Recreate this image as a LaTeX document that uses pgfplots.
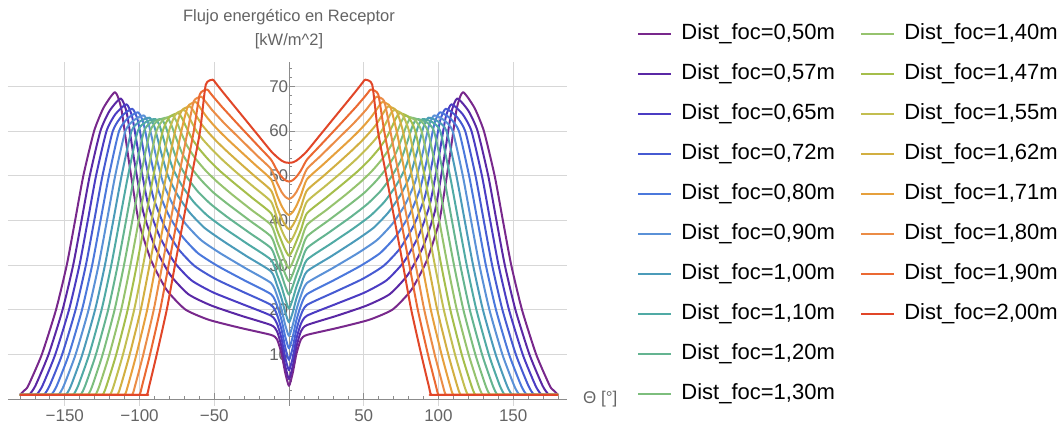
\documentclass[border=0pt]{standalone}
\usepackage{fontspec}
\setmainfont{Liberation Sans}
\usepackage{pgfplots}
\pgfplotsset{compat=1.18}
\definecolor{axisgray}{RGB}{140,140,140}
\definecolor{gridgray}{RGB}{215,215,215}
\definecolor{labelgray}{RGB}{100,100,100}
\definecolor{c0}{RGB}{120,40,140}
\definecolor{c1}{RGB}{90,40,165}
\definecolor{c2}{RGB}{75,60,195}
\definecolor{c3}{RGB}{70,90,210}
\definecolor{c4}{RGB}{75,120,220}
\definecolor{c5}{RGB}{90,145,215}
\definecolor{c6}{RGB}{75,155,185}
\definecolor{c7}{RGB}{80,170,165}
\definecolor{c8}{RGB}{100,180,145}
\definecolor{c9}{RGB}{125,190,125}
\definecolor{c10}{RGB}{150,195,110}
\definecolor{c11}{RGB}{165,190,75}
\definecolor{c12}{RGB}{195,190,80}
\definecolor{c13}{RGB}{210,175,65}
\definecolor{c14}{RGB}{230,160,60}
\definecolor{c15}{RGB}{235,140,70}
\definecolor{c16}{RGB}{235,105,50}
\definecolor{c17}{RGB}{225,70,40}
\pgfplotsset{curve/.style={line width=2pt, line join=round, smooth, tension=0.35, forget plot}}
\newcommand\legline[2]{\addlegendimage{legend image code/.code={\fill[#1] (0pt,-0.7pt) rectangle (32pt,0.7pt);}}\addlegendentry{#2}}
\begin{document}
\begin{tikzpicture}
\useasboundingbox (-8pt,-21pt) rectangle (1055pt,406pt);
\begin{axis}[
  scale only axis, width=559pt, height=344.2pt,
  xmin=-188, xmax=186, ymin=-1.5, ymax=75.5,
  axis lines=middle,
  axis line style={-, draw=axisgray, line width=0.8pt},
  xtick={-150,-100,-50,50,100,150},
  xticklabels={−150,−100,−50,50,100,150},
  ytick={10,20,30,40,50,60,70},
  yticklabels={10,20,30,40,50,60,70},
  minor xtick={-180,-170,...,180},
  minor ytick={2,4,...,74},
  tick align=inside,
  major tick length=6pt, minor tick length=3.5pt,
  tick style={draw=axisgray, line width=0.8pt},
  grid=major,
  major grid style={draw=gridgray, line width=0.8pt},
  tick label style={font=\fontsize{17}{20}\selectfont, text=labelgray},
  xticklabel style={yshift=-7pt},
  yticklabel style={xshift=2.7pt},
  xlabel={Θ [°]},
  every axis x label/.style={at={(axis description cs:1.0286,0.0195)}, anchor=west, inner sep=0pt, font=\fontsize{17}{20}\selectfont, text=labelgray},
  ylabel={Flujo energético en Receptor\\{[kW/m\textasciicircum 2]}},
  every axis y label/.style={at={(axis cs:0,75.5)}, anchor=south, rotate=0, align=center, yshift=12.6pt, inner sep=0pt, font=\fontsize{16.5}{24}\selectfont, text=labelgray},
  clip=false,
  legend columns=2,
  legend cell align=left,
  legend style={
    at={(axis description cs:1.1270,1.1119)}, anchor=north west,
    draw=none, fill=none, inner sep=0pt, outer sep=0pt,
    font=\fontsize{22}{26}\selectfont,
    row sep=19pt, column sep=11pt,
    nodes={inner sep=0pt, text height=16pt, text depth=5pt},
    /tikz/every even column/.append style={column sep=26pt},
  },
]
\addplot[curve,c0] coordinates {(-180,1.0)(-177,2.0)(-174.5,3)(-165.4,10)(-155.9,20)(-148.7,30)(-143.1,40)(-137.6,50)(-130.4,60)(-124.1,65.2)(-116.4,68.7)(-112.2,65.0)(-107.0,53.0)(-100.7,40.1)(-92.4,31.2)(-81.9,24.5)(-69.4,20.1)(-53.8,17.8)(-32.9,16.0)(-12,14.4)(-8,13.4)(-5,10.2)(-2.5,5.9)(0,3.0)(2.5,5.9)(5,10.2)(8,13.4)(12,14.4)(32.9,16.0)(53.8,17.8)(69.4,20.1)(81.9,24.5)(92.4,31.2)(100.7,40.1)(107.0,53.0)(112.2,65.0)(116.4,68.7)(124.1,65.2)(130.4,60)(137.6,50)(143.1,40)(148.7,30)(155.9,20)(165.4,10)(174.5,3)(177,2.0)(180,1.0)};
\addplot[curve,c1] coordinates {(-180,1.0)(-177.7,1.0)(-173.7,1.1)(-169.7,3)(-160.9,10)(-151.5,20)(-144.4,30)(-138.8,40)(-133.3,50)(-126.2,60)(-120.1,64.5)(-112.55,67.3)(-108.5,64.0)(-103.5,53.4)(-97.5,41.9)(-89.4,33.9)(-79.4,27.8)(-67.3,23.5)(-52.2,21.0)(-32.1,18.7)(-12,16.6)(-8,15.2)(-5,11.8)(-2.5,7.4)(0,4.5)(2.5,7.4)(5,11.8)(8,15.2)(12,16.6)(32.1,18.7)(52.2,21.0)(67.3,23.5)(79.4,27.8)(89.4,33.9)(97.5,41.9)(103.5,53.4)(108.5,64.0)(112.55,67.3)(120.1,64.5)(126.2,60)(133.3,50)(138.8,40)(144.4,30)(151.5,20)(160.9,10)(169.7,3)(173.7,1.1)(177.7,1.0)(180,1.0)};
\addplot[curve,c2] coordinates {(-180,1.0)(-172.8,1.0)(-168.8,1.1)(-165.0,3)(-156.4,10)(-147.2,20)(-140.2,30)(-134.6,40)(-129.1,50)(-122.1,60)(-116.1,63.8)(-108.7,66.0)(-104.8,63.0)(-100.0,53.7)(-94.2,43.5)(-86.5,36.4)(-76.8,30.7)(-65.2,26.6)(-50.7,23.9)(-31.3,21.3)(-12,18.7)(-8,16.9)(-5,13.6)(-2.5,9.3)(0,6.5)(2.5,9.3)(5,13.6)(8,16.9)(12,18.7)(31.3,21.3)(50.7,23.9)(65.2,26.6)(76.8,30.7)(86.5,36.4)(94.2,43.5)(100.0,53.7)(104.8,63.0)(108.7,66.0)(116.1,63.8)(122.1,60)(129.1,50)(134.6,40)(140.2,30)(147.2,20)(156.4,10)(165.0,3)(168.8,1.1)(172.8,1.0)(180,1.0)};
\addplot[curve,c3] coordinates {(-180,1.0)(-167.8,1.0)(-163.8,1.1)(-160.2,3)(-151.8,10)(-142.8,20)(-135.9,30)(-130.3,40)(-124.8,50)(-117.9,60)(-112.0,63.3)(-104.85,65.0)(-101.1,62.3)(-96.5,54.1)(-90.9,45.3)(-83.5,38.9)(-74.2,33.7)(-63.1,29.8)(-49.1,26.9)(-30.6,24.0)(-12,21.1)(-8,18.9)(-5,15.6)(-2.5,11.6)(0,8.8)(2.5,11.6)(5,15.6)(8,18.9)(12,21.1)(30.6,24.0)(49.1,26.9)(63.1,29.8)(74.2,33.7)(83.5,38.9)(90.9,45.3)(96.5,54.1)(101.1,62.3)(104.85,65.0)(112.0,63.3)(117.9,60)(124.8,50)(130.3,40)(135.9,30)(142.8,20)(151.8,10)(160.2,3)(163.8,1.1)(167.8,1.0)(180,1.0)};
\addplot[curve,c4] coordinates {(-180,1.0)(-162.9,1.0)(-158.9,1.1)(-155.4,3)(-147.3,10)(-138.5,20)(-131.7,30)(-126.1,40)(-120.5,50)(-113.7,60)(-108.0,62.8)(-101.0,64.2)(-97.4,61.8)(-93.0,54.7)(-87.65,47.0)(-80.5,41.2)(-71.6,36.5)(-60.95,32.7)(-47.6,29.8)(-29.8,26.6)(-12,23.5)(-8,21.0)(-5,17.75)(-2.5,14.0)(0,11.4)(2.5,14.0)(5,17.75)(8,21.0)(12,23.5)(29.8,26.6)(47.6,29.8)(60.95,32.7)(71.6,36.5)(80.5,41.2)(87.65,47.0)(93.0,54.7)(97.4,61.8)(101.0,64.2)(108.0,62.8)(113.7,60)(120.5,50)(126.1,40)(131.7,30)(138.5,20)(147.3,10)(155.4,3)(158.9,1.1)(162.9,1.0)(180,1.0)};
\addplot[curve,c5] coordinates {(-180,1.0)(-158.0,1.0)(-154.0,1.1)(-150.7,3)(-142.8,10)(-134.1,20)(-127.4,30)(-121.8,40)(-116.3,50)(-109.5,60)(-103.9,62.4)(-97.15,63.5)(-93.7,61.3)(-89.5,55.2)(-84.4,48.6)(-77.6,43.5)(-69.05,39.2)(-58.8,35.6)(-46.1,32.7)(-29.0,29.3)(-12,26.0)(-8,23.2)(-5,20.1)(-2.5,16.6)(0,14.2)(2.5,16.6)(5,20.1)(8,23.2)(12,26.0)(29.0,29.3)(46.1,32.7)(58.8,35.6)(69.05,39.2)(77.6,43.5)(84.4,48.6)(89.5,55.2)(93.7,61.3)(97.15,63.5)(103.9,62.4)(109.5,60)(116.3,50)(121.8,40)(127.4,30)(134.1,20)(142.8,10)(150.7,3)(154.0,1.1)(158.0,1.0)(180,1.0)};
\addplot[curve,c6] coordinates {(-180,1.0)(-153.1,1.0)(-149.1,1.1)(-145.9,3)(-138.3,10)(-129.75,20)(-123.15,30)(-117.55,40)(-112.0,50)(-105.4,60)(-100.0,62.1)(-93.3,63.0)(-90.05,61.0)(-86.0,55.8)(-81.1,50.1)(-74.6,45.7)(-66.5,41.8)(-56.7,38.4)(-44.5,35.5)(-28.3,32.0)(-12,28.6)(-8,25.5)(-5,22.6)(-2.5,19.45)(0,17.2)(2.5,19.45)(5,22.6)(8,25.5)(12,28.6)(28.3,32.0)(44.5,35.5)(56.7,38.4)(66.5,41.8)(74.6,45.7)(81.1,50.1)(86.0,55.8)(90.05,61.0)(93.3,63.0)(100.0,62.1)(105.4,60)(112.0,50)(117.55,40)(123.15,30)(129.75,20)(138.3,10)(145.9,3)(149.1,1.1)(153.1,1.0)(180,1.0)};
\addplot[curve,c7] coordinates {(-180,1.0)(-148.2,1.0)(-144.2,1.1)(-141.1,3)(-133.7,10)(-125.4,20)(-118.9,30)(-113.3,40)(-107.7,50)(-101.2,60)(-95.9,62.0)(-89.45,62.7)(-86.35,61.0)(-82.5,56.6)(-77.8,51.7)(-71.6,47.8)(-63.9,44.2)(-54.6,41.1)(-43.0,38.2)(-27.5,34.7)(-12,31.2)(-8,27.9)(-5,25.2)(-2.5,22.4)(0,20.3)(2.5,22.4)(5,25.2)(8,27.9)(12,31.2)(27.5,34.7)(43.0,38.2)(54.6,41.1)(63.9,44.2)(71.6,47.8)(77.8,51.7)(82.5,56.6)(86.35,61.0)(89.45,62.7)(95.9,62.0)(101.2,60)(107.7,50)(113.3,40)(118.9,30)(125.4,20)(133.7,10)(141.1,3)(144.2,1.1)(148.2,1.0)(180,1.0)};
\addplot[curve,c8] coordinates {(-180,1.0)(-143.3,1.0)(-139.3,1.1)(-136.4,3)(-129.2,10)(-121.0,20)(-114.6,30)(-109.0,40)(-103.5,50)(-97.0,60)(-91.9,62.0)(-85.6,62.7)(-82.7,61.2)(-79.0,57.4)(-74.6,53.3)(-68.7,49.9)(-61.3,46.6)(-52.5,43.7)(-41.4,40.8)(-26.7,37.3)(-12,33.8)(-8,30.4)(-5,27.8)(-2.5,25.3)(0,23.4)(2.5,25.3)(5,27.8)(8,30.4)(12,33.8)(26.7,37.3)(41.4,40.8)(52.5,43.7)(61.3,46.6)(68.7,49.9)(74.6,53.3)(79.0,57.4)(82.7,61.2)(85.6,62.7)(91.9,62.0)(97.0,60)(103.5,50)(109.0,40)(114.6,30)(121.0,20)(129.2,10)(136.4,3)(139.3,1.1)(143.3,1.0)(180,1.0)};
\addplot[curve,c9] coordinates {(-180,1.0)(-138.3,1.0)(-134.3,1.1)(-131.6,3)(-124.7,10)(-116.7,20)(-110.4,30)(-104.8,40)(-99.2,50)(-92.9,60)(-87.9,62.3)(-81.75,63.0)(-79.0,61.6)(-75.5,58.45)(-71.3,54.9)(-65.7,51.9)(-58.7,49.0)(-50.4,46.2)(-39.9,43.4)(-25.95,39.9)(-12,36.4)(-8,32.9)(-5,30.3)(-2.5,28.0)(0,26.4)(2.5,28.0)(5,30.3)(8,32.9)(12,36.4)(25.95,39.9)(39.9,43.4)(50.4,46.2)(58.7,49.0)(65.7,51.9)(71.3,54.9)(75.5,58.45)(79.0,61.6)(81.75,63.0)(87.9,62.3)(92.9,60)(99.2,50)(104.8,40)(110.4,30)(116.7,20)(124.7,10)(131.6,3)(134.3,1.1)(138.3,1.0)(180,1.0)};
\addplot[curve,c10] coordinates {(-180,1.0)(-133.4,1.0)(-129.4,1.1)(-126.85,3)(-120.2,10)(-112.3,20)(-106.1,30)(-100.5,40)(-94.95,50)(-88.7,60)(-83.8,62.6)(-77.9,63.4)(-75.3,62.2)(-72.0,59.5)(-68.0,56.6)(-62.7,53.9)(-56.15,51.3)(-48.2,48.7)(-38.4,45.9)(-25.2,42.4)(-12,39.0)(-8,35.4)(-5,32.9)(-2.5,30.7)(0,29.3)(2.5,30.7)(5,32.9)(8,35.4)(12,39.0)(25.2,42.4)(38.4,45.9)(48.2,48.7)(56.15,51.3)(62.7,53.9)(68.0,56.6)(72.0,59.5)(75.3,62.2)(77.9,63.4)(83.8,62.6)(88.7,60)(94.95,50)(100.5,40)(106.1,30)(112.3,20)(120.2,10)(126.85,3)(129.4,1.1)(133.4,1.0)(180,1.0)};
\addplot[curve,c11] coordinates {(-180,1.0)(-128.5,1.0)(-124.5,1.1)(-122.1,3)(-115.6,10)(-107.95,20)(-101.85,30)(-96.25,40)(-90.7,50)(-84.5,60)(-79.8,63.2)(-74.05,64.0)(-71.6,62.9)(-68.5,60.7)(-64.7,58.2)(-59.8,55.9)(-53.6,53.5)(-46.1,51.05)(-36.8,48.4)(-24.4,45.0)(-12,41.6)(-8,37.9)(-5,35.4)(-2.5,33.4)(0,32.1)(2.5,33.4)(5,35.4)(8,37.9)(12,41.6)(24.4,45.0)(36.8,48.4)(46.1,51.05)(53.6,53.5)(59.8,55.9)(64.7,58.2)(68.5,60.7)(71.6,62.9)(74.05,64.0)(79.8,63.2)(84.5,60)(90.7,50)(96.25,40)(101.85,30)(107.95,20)(115.6,10)(122.1,3)(124.5,1.1)(128.5,1.0)(180,1.0)};
\addplot[curve,c12] coordinates {(-180,1.0)(-123.6,1.0)(-119.6,1.1)(-117.3,3)(-111.1,10)(-103.6,20)(-97.6,30)(-92.0,40)(-86.4,50)(-80.3,60)(-75.75,63.8)(-70.2,64.7)(-67.9,63.8)(-65.0,61.9)(-61.5,59.8)(-56.8,57.8)(-51.0,55.7)(-44.0,53.4)(-35.3,50.8)(-23.6,47.5)(-12,44.2)(-8,40.5)(-5,37.9)(-2.5,36.1)(0,35.0)(2.5,36.1)(5,37.9)(8,40.5)(12,44.2)(23.6,47.5)(35.3,50.8)(44.0,53.4)(51.0,55.7)(56.8,57.8)(61.5,59.8)(65.0,61.9)(67.9,63.8)(70.2,64.7)(75.75,63.8)(80.3,60)(86.4,50)(92.0,40)(97.6,30)(103.6,20)(111.1,10)(117.3,3)(119.6,1.1)(123.6,1.0)(180,1.0)};
\addplot[curve,c13] coordinates {(-180,1.0)(-118.7,1.0)(-114.7,1.1)(-112.55,3)(-106.6,10)(-99.2,20)(-93.3,30)(-87.7,40)(-82.2,50)(-76.2,60)(-71.8,64.6)(-66.35,65.5)(-64.2,64.65)(-61.5,63.15)(-58.2,61.4)(-53.85,59.65)(-48.4,57.7)(-41.9,55.6)(-33.7,53.1)(-22.9,49.9)(-12,46.7)(-8,43.0)(-5,40.5)(-2.5,38.9)(0,38.0)(2.5,38.9)(5,40.5)(8,43.0)(12,46.7)(22.9,49.9)(33.7,53.1)(41.9,55.6)(48.4,57.7)(53.85,59.65)(58.2,61.4)(61.5,63.15)(64.2,64.65)(66.35,65.5)(71.8,64.6)(76.2,60)(82.2,50)(87.7,40)(93.3,30)(99.2,20)(106.6,10)(112.55,3)(114.7,1.1)(118.7,1.0)(180,1.0)};
\addplot[curve,c14] coordinates {(-180,1.0)(-113.75,1.0)(-109.75,1.1)(-107.8,3)(-102.1,10)(-94.9,20)(-89.1,30)(-83.5,40)(-77.9,50)(-72.0,60)(-67.7,65.5)(-62.5,66.5)(-60.5,65.75)(-57.95,64.5)(-54.9,63.1)(-50.9,61.5)(-45.8,59.7)(-39.8,57.75)(-32.2,55.4)(-22.1,52.3)(-12,49.2)(-8,45.65)(-5,43.3)(-2.5,41.9)(0,41.2)(2.5,41.9)(5,43.3)(8,45.65)(12,49.2)(22.1,52.3)(32.2,55.4)(39.8,57.75)(45.8,59.7)(50.9,61.5)(54.9,63.1)(57.95,64.5)(60.5,65.75)(62.5,66.5)(67.7,65.5)(72.0,60)(77.9,50)(83.5,40)(89.1,30)(94.9,20)(102.1,10)(107.8,3)(109.75,1.1)(113.75,1.0)(180,1.0)};
\addplot[curve,c15] coordinates {(-180,1.0)(-108.8,1.0)(-104.8,1.1)(-103.0,3)(-97.5,10)(-90.5,20)(-84.8,30)(-79.2,40)(-73.6,50)(-67.8,60)(-63.7,66.7)(-58.65,67.7)(-56.8,67.0)(-54.45,66.0)(-51.65,64.8)(-47.9,63.4)(-43.3,61.75)(-37.7,59.9)(-30.7,57.6)(-21.3,54.5)(-12,51.5)(-8,48.4)(-5,46.4)(-2.5,45.3)(0,44.8)(2.5,45.3)(5,46.4)(8,48.4)(12,51.5)(21.3,54.5)(30.7,57.6)(37.7,59.9)(43.3,61.75)(47.9,63.4)(51.65,64.8)(54.45,66.0)(56.8,67.0)(58.65,67.7)(63.7,66.7)(67.8,60)(73.6,50)(79.2,40)(84.8,30)(90.5,20)(97.5,10)(103.0,3)(104.8,1.1)(108.8,1.0)(180,1.0)};
\addplot[curve,c16] coordinates {(-180,1.0)(-103.9,1.0)(-99.9,1.1)(-98.3,3)(-93.0,10)(-86.2,20)(-80.55,30)(-74.95,40)(-69.4,50)(-63.7,60)(-59.7,68.2)(-54.8,69.3)(-53.1,68.7)(-50.95,67.8)(-48.4,66.8)(-44.95,65.45)(-40.7,63.9)(-35.5,62.0)(-29.1,59.7)(-20.55,56.65)(-12,53.6)(-8,51.2)(-5,49.8)(-2.5,49.0)(0,48.7)(2.5,49.0)(5,49.8)(8,51.2)(12,53.6)(20.55,56.65)(29.1,59.7)(35.5,62.0)(40.7,63.9)(44.95,65.45)(48.4,66.8)(50.95,67.8)(53.1,68.7)(54.8,69.3)(59.7,68.2)(63.7,60)(69.4,50)(74.95,40)(80.55,30)(86.2,20)(93.0,10)(98.3,3)(99.9,1.1)(103.9,1.0)(180,1.0)};
\addplot[curve,c17] coordinates {(-180,1.0)(-99.0,1.0)(-95.0,1.1)(-93.5,3)(-88.5,10)(-81.8,20)(-76.3,30)(-70.7,40)(-65.1,50)(-59.5,60)(-55.7,70.35)(-51.0,71.5)(-49.4,70.9)(-47.5,70.1)(-45.15,69.1)(-42.0,67.8)(-38.1,66.2)(-33.45,64.3)(-27.6,61.9)(-19.8,58.7)(-12,55.5)(-8,54.2)(-5,53.4)(-2.5,53.0)(0,52.9)(2.5,53.0)(5,53.4)(8,54.2)(12,55.5)(19.8,58.7)(27.6,61.9)(33.45,64.3)(38.1,66.2)(42.0,67.8)(45.15,69.1)(47.5,70.1)(49.4,70.9)(51.0,71.5)(55.7,70.35)(59.5,60)(65.1,50)(70.7,40)(76.3,30)(81.8,20)(88.5,10)(93.5,3)(95.0,1.1)(99.0,1.0)(180,1.0)};
\legline{c0}{Dist\_foc=0,50m}
\legline{c10}{Dist\_foc=1,40m}
\legline{c1}{Dist\_foc=0,57m}
\legline{c11}{Dist\_foc=1,47m}
\legline{c2}{Dist\_foc=0,65m}
\legline{c12}{Dist\_foc=1,55m}
\legline{c3}{Dist\_foc=0,72m}
\legline{c13}{Dist\_foc=1,62m}
\legline{c4}{Dist\_foc=0,80m}
\legline{c14}{Dist\_foc=1,71m}
\legline{c5}{Dist\_foc=0,90m}
\legline{c15}{Dist\_foc=1,80m}
\legline{c6}{Dist\_foc=1,00m}
\legline{c16}{Dist\_foc=1,90m}
\legline{c7}{Dist\_foc=1,10m}
\legline{c17}{Dist\_foc=2,00m}
\legline{c8}{Dist\_foc=1,20m}
\addlegendimage{empty legend}\addlegendentry{}
\legline{c9}{Dist\_foc=1,30m}
\end{axis}
\end{tikzpicture}
\end{document}
